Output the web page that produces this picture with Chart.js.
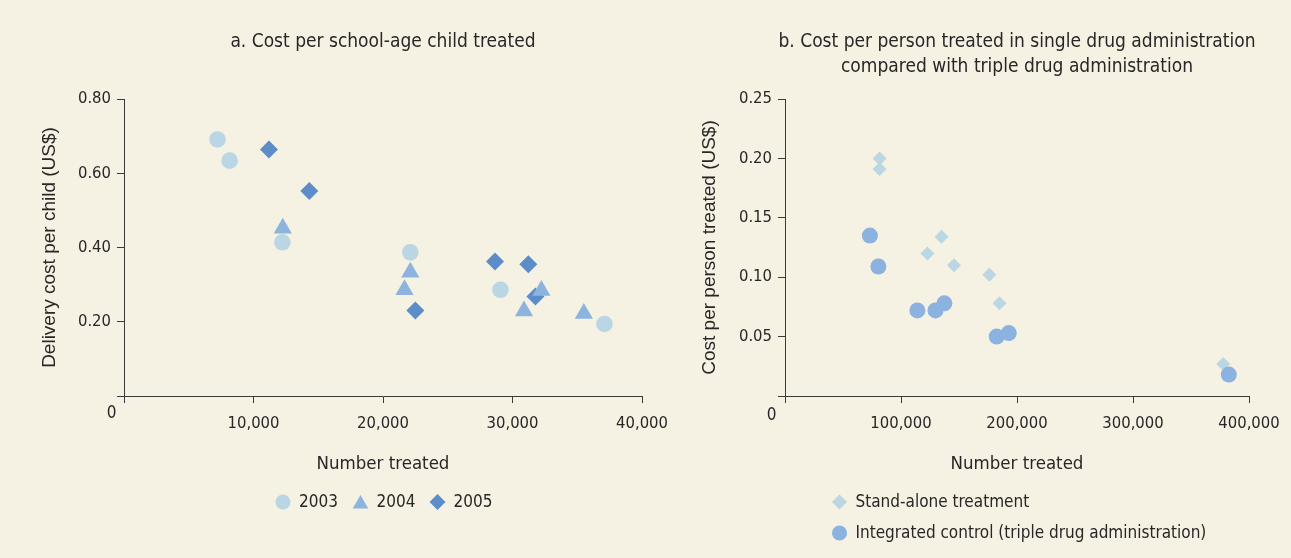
<!DOCTYPE html>
<html>
<head>
<meta charset="utf-8">
<script src="https://cdn.jsdelivr.net/npm/chart.js@4/dist/chart.umd.min.js"></script>
<style>
  html, body { margin: 0; padding: 0; background: #f5f1e3; }
  #wrap { position: relative; width: 1291px; height: 558px; overflow: hidden; }
  #wrap canvas { position: absolute; left: 0; top: 0; }
</style>
</head>
<body>
<div id="wrap">
  <canvas id="childChart" width="1291" height="558"></canvas>
  <canvas id="personChart" width="1291" height="558"></canvas>
</div>
<script>
// Panel a - cost per school-age child, by year
const yearLabels = ['2003', '2004', '2005'];
const x2003 = [7220, 8160, 12230, 22110, 29070, 37100];
const y2003 = [0.691, 0.634, 0.414, 0.387, 0.286, 0.194];
const x2004 = [12260, 22110, 21660, 30890, 32230, 35510];
const y2004 = [0.452, 0.333, 0.286, 0.229, 0.284, 0.222];
const x2005 = [11190, 14310, 22500, 28650, 31220, 31770];
const y2005 = [0.664, 0.552, 0.230, 0.362, 0.355, 0.268];
const childTicksY = [0, 0.2, 0.4, 0.6, 0.8];
const childTicksX = [0, 10000, 20000, 30000, 40000];

// Panel b - single vs triple drug administration
const treatmentLabels = ['Stand-alone treatment', 'Integrated control (triple drug administration)'];
const xStand = [81500, 81500, 122800, 134900, 145700, 176200, 184900, 377800];
const yStand = [0.200, 0.191, 0.120, 0.134, 0.110, 0.102, 0.078, 0.027];
const xIntegrated = [73200, 80500, 114100, 129700, 137400, 182500, 192900, 382600];
const yIntegrated = [0.135, 0.109, 0.072, 0.072, 0.078, 0.050, 0.053, 0.018];
const personTicksY = [0, 0.05, 0.10, 0.15, 0.20, 0.25];
const personTicksX = [0, 100000, 200000, 300000, 400000];

const NARROW = "'Liberation Sans Narrow', 'DejaVu Sans Condensed', 'Arial Narrow', sans-serif";
const REGULAR = "'Liberation Sans', Arial, sans-serif";
const TEXT = '#2a2627';
const AXIS = '#3a3a3a';

function pts(xs, ys) {
    return xs.map((x, i) => ({ x: x, y: ys[i] }));
}

function fmtThousands(v) {
    return v.toLocaleString('en-US');
}

// titles, origin "0" and legend drawn on the canvas
const panelText = {
    id: 'panelText',
    afterDraw(chart, args, opts) {
        const ctx = chart.ctx;
        const area = chart.chartArea;
        ctx.save();
        ctx.fillStyle = TEXT;
        ctx.textAlign = 'center';
        ctx.textBaseline = 'middle';
        ctx.font = '19px ' + NARROW;
        const cx = (area.left + area.right) / 2;
        opts.title.forEach((line, i) => ctx.fillText(line, cx, opts.titleY + i * opts.titleGap));

        ctx.font = '17px ' + NARROW;
        ctx.fillText('0', area.left + opts.origin[0], area.bottom + opts.origin[1]);

        ctx.textAlign = 'left';
        ctx.font = '17px ' + NARROW;
        chart.data.datasets.forEach((ds, i) => {
            const pos = opts.legend[i];
            ctx.fillStyle = ds.backgroundColor;
            Chart.helpers.drawPoint(ctx, { pointStyle: ds.pointStyle, radius: pos.r, borderWidth: 0, rotation: 0 }, pos.x, pos.y + (pos.dy || 0));
            ctx.fillStyle = TEXT;
            ctx.fillText(ds.label, pos.x + 16, pos.y + 1);
        });
        ctx.restore();
    }
};

function axisX(min, max, ticks, title) {
    return {
        type: 'linear',
        min: min,
        max: max,
        afterBuildTicks: s => { s.ticks = ticks.map(v => ({ value: v })); },
        afterFit: s => { s.height = 80; },
        ticks: {
            color: TEXT,
            font: { family: NARROW, size: 16.5 },
            padding: 11,
            maxRotation: 0,
            autoSkip: false,
            callback: v => v === 0 ? '' : fmtThousands(v)
        },
        grid: { drawOnChartArea: false, drawTicks: true, tickLength: 7, color: AXIS },
        border: { display: true, color: AXIS },
        title: {
            display: true,
            text: title,
            color: TEXT,
            font: { family: NARROW, size: 18.5 },
            padding: { top: 0, bottom: 1 }
        }
    };
}

function axisY(min, max, ticks, title, titlePad) {
    return {
        type: 'linear',
        min: min,
        max: max,
        afterBuildTicks: s => { s.ticks = ticks.map(v => ({ value: v })); },
        afterFit: s => { s.width = 92; },
        ticks: {
            color: TEXT,
            font: { family: NARROW, size: 16.5 },
            padding: 6,
            autoSkip: false,
            callback: v => v === 0 ? '' : v.toFixed(2)
        },
        grid: { drawOnChartArea: false, drawTicks: true, tickLength: 7, color: AXIS },
        border: { display: true, color: AXIS },
        title: {
            display: true,
            text: title,
            color: TEXT,
            font: { family: REGULAR, size: 19 },
            padding: { top: titlePad, bottom: 0 }
        }
    };
}

const baseOptions = {
    responsive: false,
    animation: false,
    events: [],
    plugins: { legend: { display: false }, tooltip: { enabled: false } }
};

// Panel a
new Chart(document.getElementById('childChart'), {
    type: 'scatter',
    data: {
        datasets: [
            { label: yearLabels[0], data: pts(x2003, y2003), pointStyle: 'circle', pointRadius: 8.3, backgroundColor: '#bad6e5', borderWidth: 0, order: 1 },
            { label: yearLabels[1], data: pts(x2004, y2004), pointStyle: 'triangle', pointRadius: 10.5, backgroundColor: '#8db4df', borderWidth: 0, order: 0 },
            { label: yearLabels[2], data: pts(x2005, y2005), pointStyle: 'rectRot', pointRadius: 9, backgroundColor: '#5d8dc8', borderWidth: 0, order: 2 }
        ]
    },
    options: Object.assign({}, baseOptions, {
        layout: { padding: { left: 32, right: 649, top: 99, bottom: 82 } },
        scales: {
            x: axisX(0, 40000, childTicksX, 'Number treated'),
            y: axisY(0, 0.8, childTicksY, 'Delivery cost per child (US$)', 6)
        },
        plugins: Object.assign({}, baseOptions.plugins, {
            panelText: {
                title: ['a. Cost per school-age child treated'],
                titleY: 42.5,
                titleGap: 25,
                origin: [-12.5, 18],
                legend: [
                    { x: 283, y: 502, r: 7.5 },
                    { x: 360.5, y: 502, r: 9, dy: 2 },
                    { x: 437.5, y: 502, r: 8 }
                ]
            }
        })
    }),
    plugins: [panelText]
});

// Panel b
new Chart(document.getElementById('personChart'), {
    type: 'scatter',
    data: {
        datasets: [
            { label: treatmentLabels[0], data: pts(xStand, yStand), pointStyle: 'rectRot', pointRadius: 7, backgroundColor: '#bcd7e4', borderWidth: 0, order: 1 },
            { label: treatmentLabels[1], data: pts(xIntegrated, yIntegrated), pointStyle: 'circle', pointRadius: 8, backgroundColor: '#8cb2e0', borderWidth: 0, order: 0 }
        ]
    },
    options: Object.assign({}, baseOptions, {
        layout: { padding: { left: 693, right: 42, top: 99, bottom: 82 } },
        scales: {
            x: axisX(0, 400000, personTicksX, 'Number treated'),
            y: axisY(0, 0.25, personTicksY, 'Cost per person treated (US$)', 5)
        },
        plugins: Object.assign({}, baseOptions.plugins, {
            panelText: {
                title: ['b. Cost per person treated in single drug administration', 'compared with triple drug administration'],
                titleY: 42.5,
                titleGap: 25,
                origin: [-13.5, 20],
                legend: [
                    { x: 839.5, y: 502, r: 7.5 },
                    { x: 839.5, y: 533, r: 7.5 }
                ]
            }
        })
    }),
    plugins: [panelText]
});
</script>
</body>
</html>
